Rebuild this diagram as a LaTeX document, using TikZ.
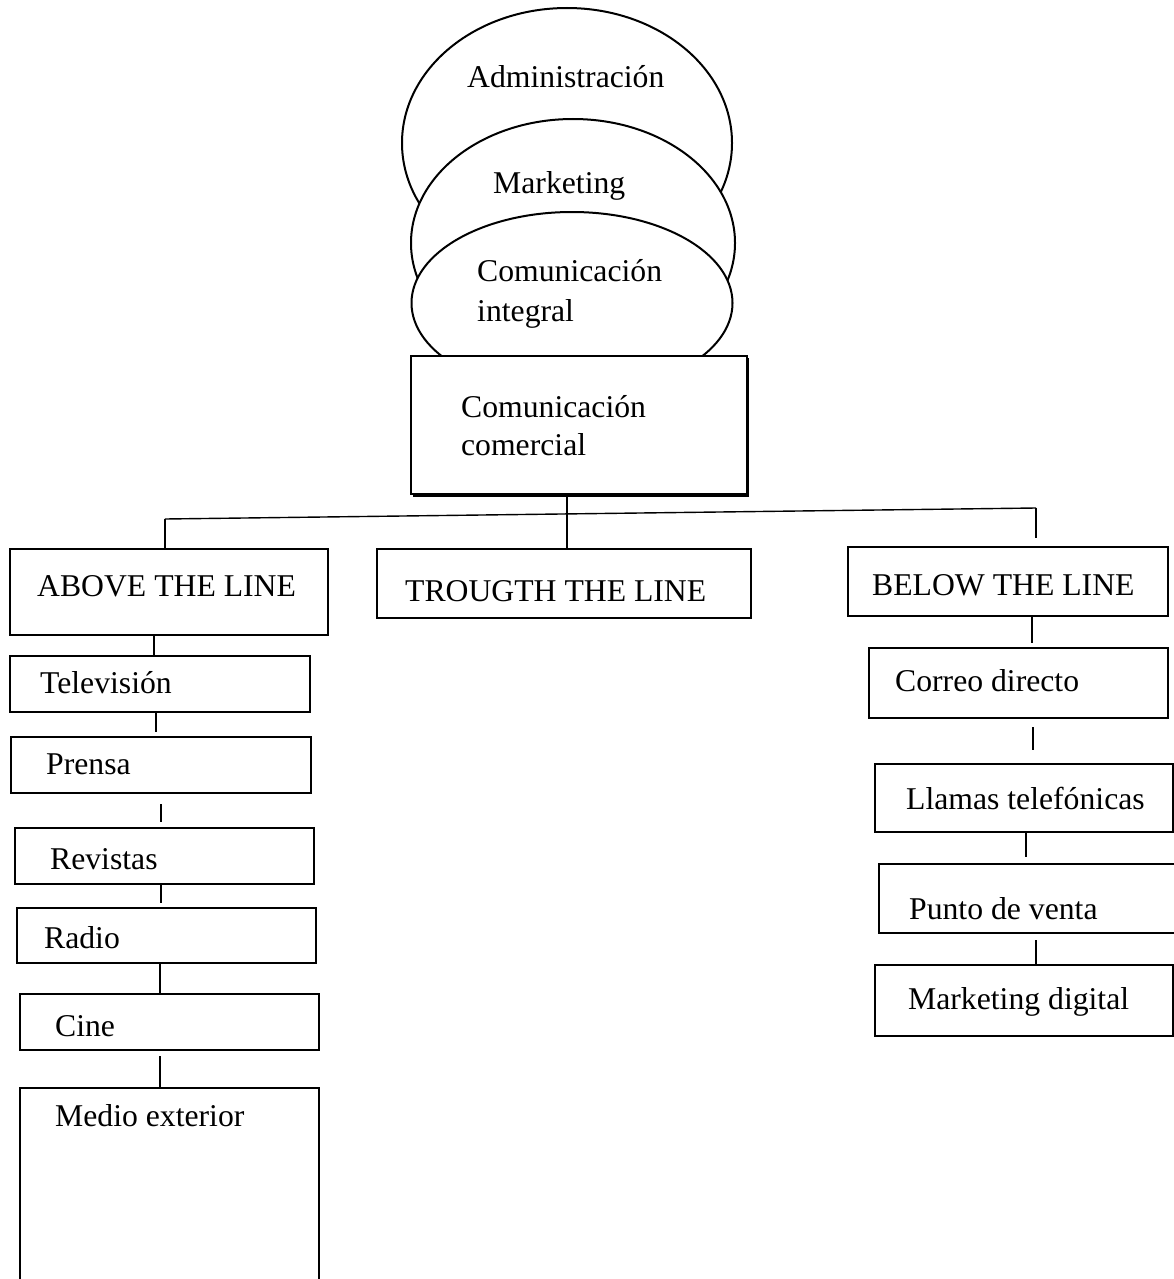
\documentclass[tikz,border=0pt]{standalone}
\usepackage{fontspec}
\setmainfont{Liberation Serif}
\usetikzlibrary{shapes.geometric}
\begin{document}
\begin{tikzpicture}[x=1pt,y=-1pt,
  every node/.style={font=\fontsize{31.7}{38}\selectfont},
  box/.style={draw, line width=2.3pt, fill=white, rectangle, anchor=north west, inner sep=0pt},
  oval/.style={draw, line width=2pt, fill=white, ellipse, inner sep=0pt},
  word/.style={inner sep=0pt, anchor=base west},
  link/.style={line width=1.4pt}]
\useasboundingbox (0,0) rectangle (1173,1279);

% nested ovals
\node[oval, minimum width=330, minimum height=270] (admin) at (567,143) {};
\node[oval, minimum width=324, minimum height=248] (mkt) at (573,243) {};
\node[oval, minimum width=321, minimum height=182] (integ) at (572,303) {};
\node[word] (adminT) at (467,88) {Administración};
\node[word] (mktT) at (493,193) {Marketing};
\node[inner sep=0pt, anchor=north west, align=left,
      font=\fontsize{31.7}{40}\selectfont] (integT) at (477,259) {Comunicación\\integral};

% central box with its shadow
\fill (413,358) rectangle (749,497);
\node[box, minimum width=336, minimum height=138, align=left, text width=236pt] (com) at (410,355)
  {Comunicación\\comercial};

% the three lines
\node[box, minimum width=318, minimum height=86, text height=9pt, text depth=0pt] (above) at (9,548)
  {\makebox[264pt][l]{ABOVE THE LINE}};
\node[box, minimum width=374, minimum height=69, text height=36pt, text depth=0pt] (trough) at (376,548)
  {\makebox[318pt][l]{TROUGTH THE LINE}};
\node[box, minimum width=320, minimum height=69, text height=28pt, text depth=0pt] (below) at (847,546)
  {\makebox[272pt][l]{BELOW THE LINE}};

% above the line media
\node[box, minimum width=300, minimum height=56, text height=19pt, text depth=0pt] (tv) at (9,655)
  {\makebox[240pt][l]{Televisión}};
\node[box, minimum width=300, minimum height=56, text height=19pt, text depth=0pt] (prensa) at (10,736)
  {\makebox[230pt][l]{Prensa}};
\node[box, minimum width=299, minimum height=56, text height=27pt, text depth=0pt] (revistas) at (14,827)
  {\makebox[229pt][l]{Revistas}};
\node[box, minimum width=299, minimum height=55, text height=26pt, text depth=0pt] (radio) at (16,907)
  {\makebox[245pt][l]{Radio}};
\node[box, minimum width=299, minimum height=56, text height=29pt, text depth=0pt] (cine) at (19,993)
  {\makebox[229pt][l]{Cine}};
\node[box, minimum width=299, minimum height=240, text height=0pt, text depth=163pt] (medio) at (19,1087)
  {\makebox[229pt][l]{Medio exterior}};

% below the line media
\node[box, minimum width=299, minimum height=70, text height=17pt, text depth=0pt] (correo) at (868,647)
  {\makebox[247pt][l]{Correo directo}};
\node[box, minimum width=298, minimum height=68, text height=23pt, text depth=0pt] (llamas) at (874,763)
  {\makebox[236pt][l]{Llamas telefónicas}};
\node[box, minimum width=310, minimum height=69, text height=41pt, text depth=0pt] (punto) at (878,863)
  {\makebox[250pt][l]{Punto de venta}};
\node[box, minimum width=298, minimum height=71, text height=18pt, text depth=0pt] (mdig) at (874,964)
  {\makebox[232pt][l]{Marketing digital}};

% branching bar
\coordinate (barL) at (165,519);
\coordinate (barR) at (1036,508);
\coordinate (rDrop) at (1036,538);
\draw[link] (barL) -- (barR);
\draw[link] (barL) -- (above.north -| barL);
\draw[link] (barR) -- (rDrop);
\draw[link] (com.south -| 567,0) -- (trough.north -| 567,0);

% left chain
\draw[link] (above.south -| 154,0) -- (tv.north -| 154,0);
\draw[link] (tv.south -| 156,0) -- ([yshift=4pt]prensa.north -| 156,0);
\draw[link] ([yshift=-10pt]prensa.south -| 161,0) -- ([yshift=5pt]revistas.north -| 161,0);
\draw[link] (revistas.south -| 161,0) -- ([yshift=4pt]radio.north -| 161,0);
\draw[link] (radio.south -| 160,0) -- (cine.north -| 160,0);
\draw[link] ([yshift=-5pt]cine.south -| 160,0) -- (medio.north -| 160,0);

% right chain
\draw[link] (below.south -| 1032,0) -- ([yshift=4pt]correo.north -| 1032,0);
\draw[link] ([yshift=-8pt]correo.south -| 1033,0) -- ([yshift=13pt]llamas.north -| 1033,0);
\draw[link] (llamas.south -| 1026,0) -- ([yshift=6pt]punto.north -| 1026,0);
\draw[link] ([yshift=-6pt]punto.south -| 1036,0) -- (mdig.north -| 1036,0);
\end{tikzpicture}
\end{document}
